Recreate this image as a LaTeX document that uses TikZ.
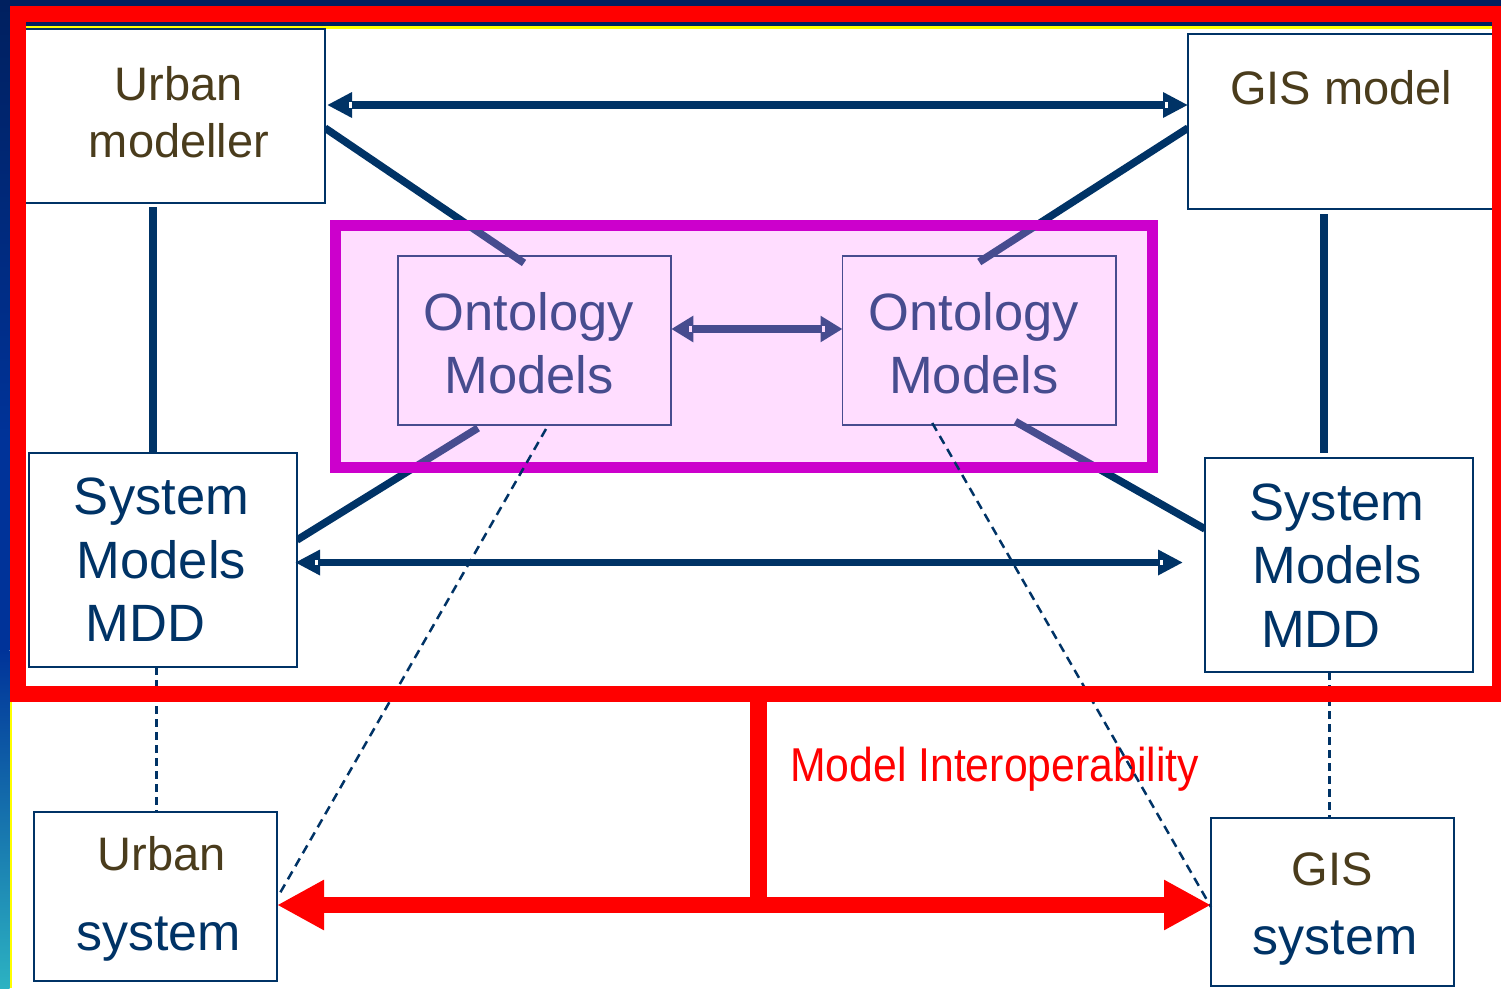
\documentclass[tikz,border=0pt]{standalone}
\usepackage{fontspec}
\setmainfont{Liberation Sans}
\newfontfamily\narrowsans[FakeStretch=0.9]{Liberation Sans}
\usetikzlibrary{arrows.meta,calc}

\definecolor{inkblue}{HTML}{003366}
\definecolor{slateblue}{HTML}{474C8F}
\definecolor{umber}{HTML}{4A3C1C}
\definecolor{blush}{HTML}{FFDDFF}
\definecolor{orchid}{HTML}{CC00CC}
\definecolor{signal}{HTML}{FF0000}
\definecolor{deepnavy}{HTML}{00205F}
\definecolor{royal}{HTML}{003399}
\definecolor{lagoon}{HTML}{2CB2C2}
\definecolor{sun}{HTML}{FFFF00}

\pgfdeclarelayer{backdrop}
\pgfdeclarelayer{under}
\pgfdeclarelayer{over}
\pgfdeclarelayer{front}
\pgfsetlayers{backdrop,under,main,over,front}

% lines of text whose first baseline sits #1 above the node centre
\newcommand\boxlines[2]{\raisebox{#1}[0pt][0pt]{\begin{tabular}[t]{@{}c@{}}#2\end{tabular}}}
% small gap at the base of a block arrow head
\newcommand\notchat[3][white]{\fill[#1] ($(#2)+(#3-1.5,-2.75)$) rectangle ++(3,5.5);}

\begin{document}
\begin{tikzpicture}[x=1pt,y=-1pt,
  box/.style={rectangle,draw=inkblue,line width=2pt,fill=white,inner sep=0pt,outer sep=0pt},
  ontobox/.style={rectangle,draw=slateblue,line width=1.7pt,fill=blush,inner sep=0pt,outer sep=0pt,
    text=slateblue,minimum width=273.5pt,minimum height=169pt,font=\fontsize{52.5}{63}\selectfont},
  sysbox/.style={box,minimum width=268pt,minimum height=214pt,text=inkblue,font=\fontsize{52.5}{63.5}\selectfont},
  endbox/.style={box,minimum width=243pt,text=umber,font=\fontsize{47}{57}\selectfont},
  link/.style={draw=inkblue,line width=7.5pt},
  ontolink/.style={draw=slateblue,line width=7.5pt},
  twoway/.style={link,arrows={Triangle[length=25pt,width=24pt]-Triangle[length=25pt,width=24pt]}},
  ontoway/.style={ontolink,arrows={Triangle[length=22pt,width=25pt]-Triangle[length=22pt,width=25pt]}},
  tie/.style={draw=inkblue,line width=3pt,dash pattern=on 8pt off 5pt},
  trace/.style={draw=inkblue,line width=2.5pt,dash pattern=on 9pt off 6pt},
  redbar/.style={draw=signal,line width=16.5pt},
  redway/.style={draw=signal,line width=16pt,arrows={Triangle[length=47pt,width=47pt]-Triangle[length=47pt,width=47pt]}},
]
\useasboundingbox (0,0) rectangle (1501,988);

% slide frame: top band, side strip, thin rules
\begin{pgfonlayer}{backdrop}
  \fill[white] (0,0) rectangle (1501,988);
  \shade[top color=deepnavy,bottom color=royal] (0,0) rectangle (9.5,440);
  \fill[royal] (0,440) rectangle (9.5,650);
  \shade[top color=royal,bottom color=lagoon] (0,650) rectangle (9.5,988);
  \fill[sun] (9.5,0) rectangle (11.5,988);
  \fill[deepnavy] (0,0) rectangle (1501,5.5);
  \fill[deepnavy] (9.5,21) rectangle (1501,26);
  \fill[sun] (9.5,26) rectangle (1501,28.5);
\end{pgfonlayer}

% ontology group
\node[draw=orchid,line width=11pt,fill=blush,minimum width=817pt,minimum height=242pt,
      inner sep=0pt,outer sep=0pt] (ogroup) at (743.5,346) {};

% boxes
\node[box,minimum width=300pt,minimum height=174pt,text=umber,font=\fontsize{47}{57}\selectfont]
  (um) at (175,116) {\hspace*{8pt}\boxlines{16pt}{Urban\\modeller}};
\node[box,minimum width=306pt,minimum height=175pt,text=umber,font=\fontsize{47}{57}\selectfont]
  (gm) at (1341,121.5) {\boxlines{17.5pt}{GIS model}};
\node[ontobox] (ol) at (534.5,340.5) {\boxlines{10.5pt}{Ontology\\Models}\hspace*{11pt}};
\node[ontobox] (or) at (979.25,340.5) {\boxlines{10.5pt}{Ontology\\Models}\hspace*{11pt}};
\node[sysbox] (sl) at (163,560) {\boxlines{45.5pt}{System\\Models\\MDD\hspace*{32pt}}\hspace*{3pt}};
\node[sysbox] (sr) at (1339,565) {\boxlines{45pt}{System\\Models\\MDD\hspace*{32pt}}\hspace*{4pt}};
\node[endbox,minimum height=169pt] (usys) at (155.5,896.5)
  {\hspace*{6pt}\boxlines{25.8pt}{\hspace*{6pt}Urban\\[22.3pt]{\color{inkblue}\fontsize{52}{62}\selectfont system}}};
\node[endbox,minimum height=168pt] (gsys) at (1332.5,902)
  {\hspace*{5pt}\boxlines{17pt}{GIS\hspace*{6pt}\\[12pt]{\color{inkblue}\fontsize{52}{62}\selectfont system}}};

% connector ends
\coordinate (umS) at ([xshift=-22pt,yshift=-4pt]um.south);
\coordinate (gmS) at ([xshift=-17pt,yshift=-5pt]gm.south);
\coordinate (srN) at ([yshift=5pt]sr.north);
\coordinate (olT) at ([xshift=-10.5pt,yshift=-7pt]ol.north);
\coordinate (orT) at ([yshift=-6pt]or.north);
\coordinate (olB) at ([xshift=-56.5pt,yshift=-3pt]ol.south);
\coordinate (orB) at ([xshift=36pt,yshift=3.5pt]or.south);
\coordinate (umE) at ([yshift=-12pt]um.east);
\coordinate (gmW) at ([yshift=-6.5pt]gm.west);
\coordinate (slE) at ([yshift=20pt]sl.east);
\coordinate (srW) at ([yshift=36pt]sr.west);

% solid links, under the ontology group
\begin{pgfonlayer}{under}
  \draw[link] (umE) -- (olT);
  \draw[link] (gmW) -- (orT);
  \draw[link] (umS) -- (umS |- sl.north);
  \draw[link] (gmS) -- (gmS |- srN);
  \draw[link] (olB) -- (slE);
  \draw[link] (orB) -- (srW);
\end{pgfonlayer}

\begin{pgfonlayer}{over}
  % the same links seen inside the ontology group
  \begin{scope}
    \clip ([shift={(5.5,5.5)}]ogroup.north west) rectangle ([shift={(-5.5,-5.5)}]ogroup.south east);
    \draw[ontolink] (umE) -- (olT);
    \draw[ontolink] (gmW) -- (orT);
    \draw[ontolink] (olB) -- (slE);
    \draw[ontolink] (orB) -- (srW);
  \end{scope}

  % two-way arrows
  \coordinate (a1l) at ([xshift=2pt,yshift=11pt]um.east);
  \coordinate (a1r) at ([yshift=16.5pt]gm.west);
  \draw[twoway] (a1l) -- (a1r);
  \coordinate (a3l) at ([xshift=-2pt,yshift=-2.5pt]sl.east);
  \coordinate (a3r) at ([xshift=-22pt,yshift=2.5pt]sr.west);
  \draw[twoway] (a3l) -- (a3r);
  \coordinate (a2l) at ([yshift=11.5pt]ol.east);
  \coordinate (a2r) at ([yshift=11.5pt]or.west);
  \draw[ontoway] (a2l) -- (a2r);
  \notchat{a1l}{23} \notchat{a1r}{-21.5}
  \notchat[blush]{a2l}{19} \notchat[blush]{a2r}{-19}
  \notchat{a3l}{21} \notchat{a3r}{-22}

  \node[anchor=base west,inner sep=0pt,text=signal,font=\narrowsans\fontsize{47.5}{57}\selectfont]
    (milabel) at (790,781) {Model Interoperability};

  % dashed links
  \coordinate (slS) at ([xshift=-7pt]sl.south);
  \coordinate (srS) at ([xshift=-10pt]sr.south);
  \draw[tie] (slS) -- (slS |- usys.north);
  \draw[tie] (srS) -- (srS |- gsys.north);
  \draw[trace] ([xshift=11.5pt,yshift=-4pt]ol.south) -- ([xshift=1pt]usys.east);
  \draw[trace] ([xshift=-47pt,yshift=2pt]or.south) -- ([yshift=-5pt]gsys.west);
\end{pgfonlayer}

% model interoperability frame and link
\begin{pgfonlayer}{front}
  \node[draw=signal,line width=16pt,minimum width=1482.5pt,minimum height=680.5pt,
        inner sep=0pt,outer sep=0pt] (iframe) at (758.75,353.75) {};
  \coordinate (hub) at (758.5,905);
  \draw[redbar] (hub |- iframe.south) -- (hub);
  \draw[redway] (usys.east |- hub) -- (gsys.west |- hub);
\end{pgfonlayer}
\end{tikzpicture}
\end{document}
